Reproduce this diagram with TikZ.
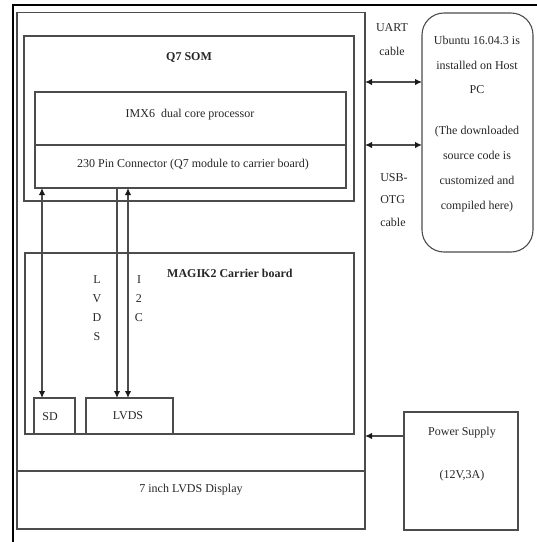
\documentclass[tikz,border=0pt]{standalone}
\usepackage{fontspec}
\setmainfont{Liberation Serif}
\usetikzlibrary{arrows.meta}
\begin{document}
\begin{tikzpicture}[x=1pt,y=-1pt,
  ln/.style={draw=black!70, line width=1.1pt},
  box/.style={ln, rectangle, inner sep=0pt, outer sep=0pt, minimum width=#1},
  txt/.style={inner sep=0pt, font=\fontsize{12}{14}\selectfont, text=black!85},
  btxt/.style={txt, font=\fontsize{12}{14}\selectfont\bfseries},
  arr/.style={ln, line width=1.5pt, >={Latex[length=7pt,width=6.5pt,color=black!90]}}
]
\useasboundingbox (0,0) rectangle (537,542);
% outer frame
\draw[black, line width=1.6pt] (537,5) -- (12.7,5) -- (12.7,545);
% main board box
\node[box=348, minimum height=516.3] (main) at (191,270.85) {};
\coordinate (dispy) at (0,471);
\draw[ln] (main.west |- dispy) -- (main.east |- dispy);
\node[txt] (disp) at (191,490) {7 inch LVDS Display};
% Q7 SOM
\node[box=330, minimum height=165] (q7) at (189,118.5) {};
\node[btxt] (q7t) at (189,57) {Q7 SOM};
\node[box=311, minimum height=96] (imx) at (190.5,140) {};
\coordinate (imxdiv) at (0,145);
\draw[ln] (imx.west |- imxdiv) -- (imx.east |- imxdiv);
\node[txt] (imxt) at (190,115) {IMX6\ \ dual core processor};
\node[txt] (pint) at (193,165) {230 Pin Connector (Q7 module to carrier board)};
% carrier
\node[box=329, minimum height=181] (carrier) at (189.5,343.5) {};
\node[btxt, anchor=west] (cart) at (167,273) {MAGIK2 Carrier board};
\node[box=41, minimum height=36] (sd) at (54.5,416) {};
\node[txt] (sdt) at (50,417) {SD};
\node[box=87, minimum height=36] (lvds) at (129.5,416) {};
\node[txt] (lvdst) at (128,416) {LVDS};
% buses
\coordinate (xsd) at (42,0);
\coordinate (xlv) at (117,0);
\coordinate (xic) at (128,0);
\draw[arr,<->] (imx.south -| xsd) -- (sd.north -| xsd);
\draw[arr,->] (imx.south -| xlv) -- (lvds.north -| xlv);
\draw[arr,<->] (imx.south -| xic) -- (lvds.north -| xic);
\node[txt, align=center, font=\fontsize{12}{19}\selectfont] (lvl) at (97,308.5) {L\\V\\D\\S};
\node[txt, align=center, font=\fontsize{12}{19}\selectfont] (icl) at (139,299) {I\\2\\C};
% host PC
\node[box=111, minimum height=239, rounded corners=22pt] (host) at (477.5,132.5) {};
\node[txt, align=center, font=\fontsize{12}{24.5}\selectfont] (host1) at (477,65) {Ubuntu 16.04.3 is\\installed on Host\\PC};
\node[txt, align=center, font=\fontsize{12}{25}\selectfont] (host2) at (477,169.5) {(The downloaded\\source code is\\customized and\\compiled here)};
% cables
\node[txt, align=center, font=\fontsize{12}{24}\selectfont] (uart) at (392,40) {UART\\cable};
\node[txt, align=left, font=\fontsize{12}{22.5}\selectfont] (usb) at (394,200) {USB-\\OTG\\cable};
\coordinate (ua) at (0,82);
\coordinate (us) at (0,145);
\draw[arr,<->] (main.east |- ua) -- (host.west |- ua);
\draw[arr,<->] (main.east |- us) -- (host.west |- us);
% power
\node[box=114, minimum height=118] (power) at (461,471) {};
\node[txt] (pw1) at (462,433) {Power Supply};
\node[txt] (pw2) at (462,476) {(12V,3A)};
\coordinate (pwy) at (0,436);
\draw[arr,->] (power.west |- pwy) -- (main.east |- pwy);
\end{tikzpicture}
\end{document}
